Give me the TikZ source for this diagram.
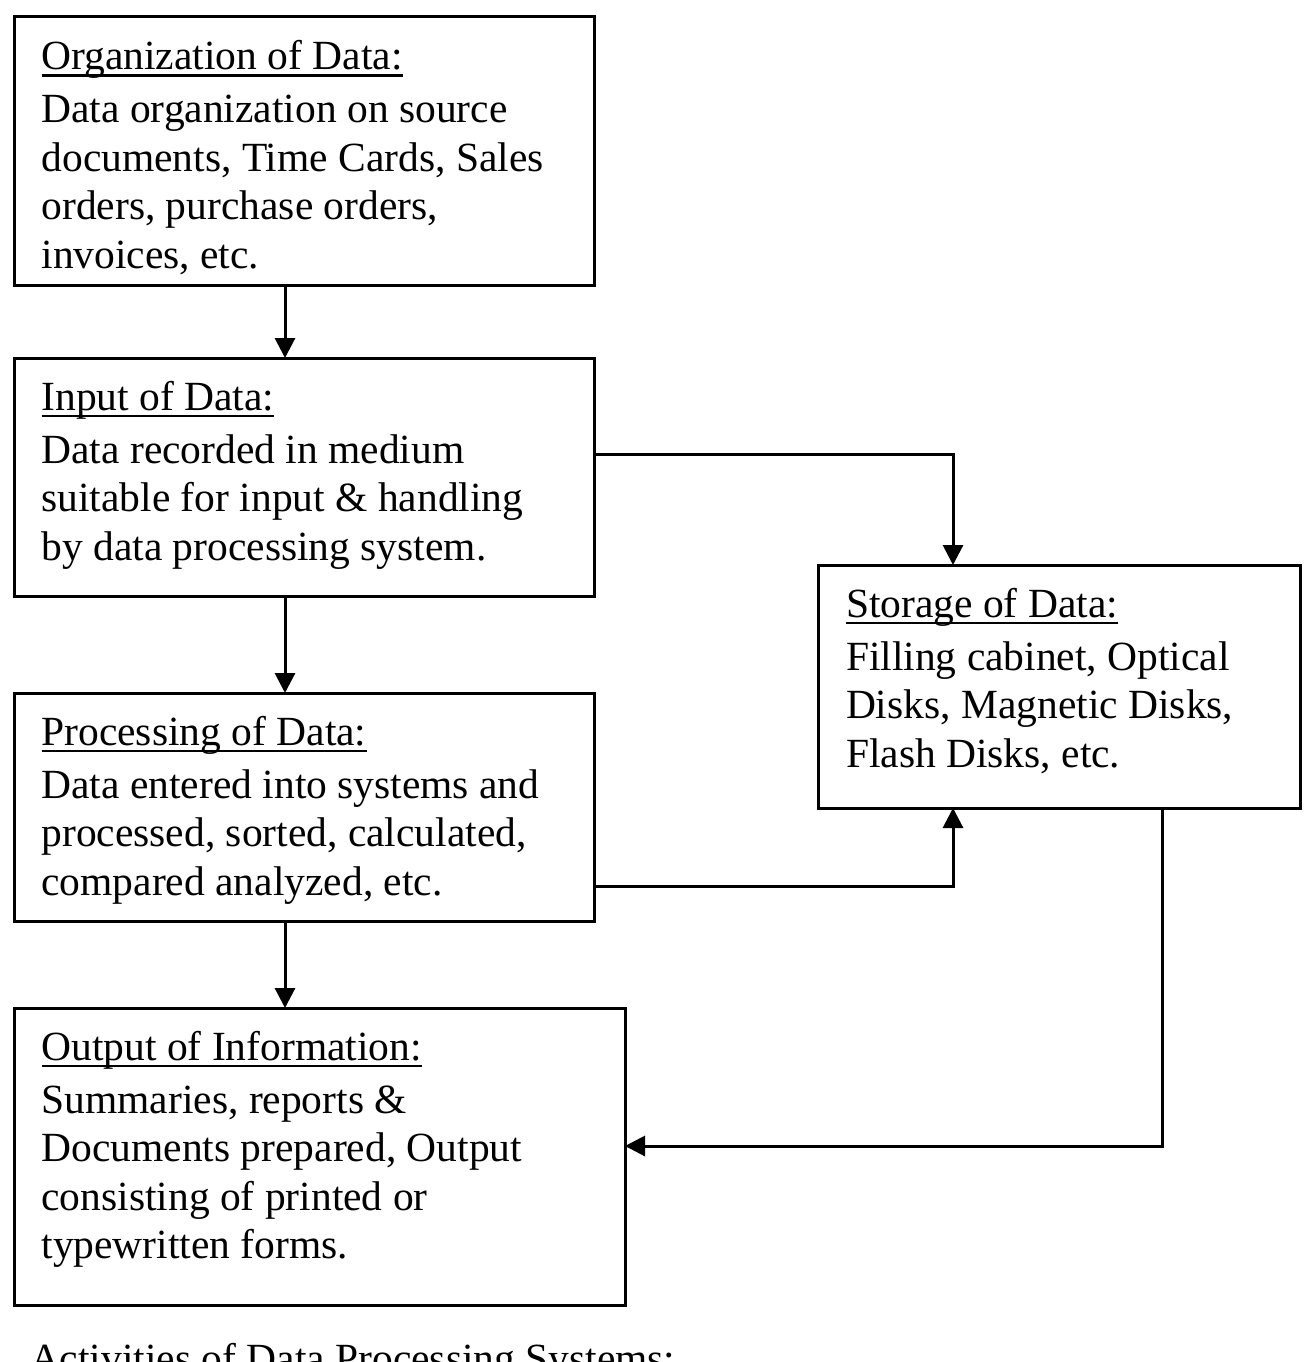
\documentclass[tikz,border=0pt]{standalone}
\usepackage{fontspec}
\setmainfont{Liberation Serif}
\usetikzlibrary{arrows.meta,calc}
\newcommand\hdline[1]{\leavevmode\setbox0\hbox{#1}\rlap{\rule[-7pt]{\wd0}{2.5pt}}\box0}
\tikzset{
  box/.style={draw, line width=3pt, inner sep=0pt, outer sep=0pt, anchor=north west},
  txt/.style={anchor=base west, inner sep=0pt, outer sep=0pt, align=flush left,
    font=\fontsize{41.5pt}{48.5pt}\selectfont},
  arr/.style={line width=3pt, -{Triangle[length=20pt,width=20pt]}},
}
\begin{document}
\begin{tikzpicture}[x=1pt,y=-1pt]
\path[use as bounding box, clip] (0,0) rectangle (1315,1362);
\fill[white] (0,0) rectangle (1315,1362);
% boxes
\node[box, minimum width=580pt, minimum height=268pt] (org) at (14,17) {};
\node[box, minimum width=580pt, minimum height=238pt] (inp) at (14,358) {};
\node[box, minimum width=580pt, minimum height=228pt] (proc) at (14,693) {};
\node[box, minimum width=611pt, minimum height=297pt] (out) at (14,1008) {};
\node[box, minimum width=482pt, minimum height=243pt] (sto) at (818,565) {};
% texts
\node[txt, text width=530pt] (orgt) at (41.5,70) {\hdline{Organization of Data:}\\[4.5pt]
Data organization on source\\
documents, Time Cards, Sales\\
orders, purchase orders,\\
invoices, etc.};
\node[txt, text width=530pt] (inpt) at (41.5,410) {\hdline{Input of Data:}\\[4.5pt]
Data recorded in medium\\
suitable for input \& handling\\
by data processing system.};
\node[txt, text width=530pt] (proct) at (41.5,745) {\hdline{Processing of Data:}\\[4.5pt]
Data entered into systems and\\
processed, sorted, calculated,\\
compared analyzed, etc.};
\node[txt, text width=560pt] (outt) at (41.5,1060) {\hdline{Output of Information:}\\[4.5pt]
Summaries, reports \&\\
Documents prepared, Output\\
consisting of printed or\\
typewritten forms.};
\node[txt, text width=430pt] (stot) at (846,617) {\hdline{Storage of Data:}\\[4.5pt]
Filling cabinet, Optical\\
Disks, Magnetic Disks,\\
Flash Disks, etc.};
\node[txt] (cap) at (30,1372.5) {Activities of Data Processing Systems:};
% connectors
\draw[arr] ([xshift=271pt]org.south west) -- ([xshift=271pt]inp.north west);
\draw[arr] ([xshift=271pt]inp.south west) -- ([xshift=271pt]proc.north west);
\draw[arr] ([xshift=271pt]proc.south west) -- ([xshift=271pt]out.north west);
\draw[arr] ([yshift=-96pt]inp.north east) -| ([xshift=135pt]sto.north west);
\draw[arr] ([yshift=-193pt]proc.north east) -| ([xshift=135pt]sto.south west);
\draw[arr] ([xshift=344pt]sto.south west) |- ([yshift=-138pt]out.north east);
\end{tikzpicture}
\end{document}
